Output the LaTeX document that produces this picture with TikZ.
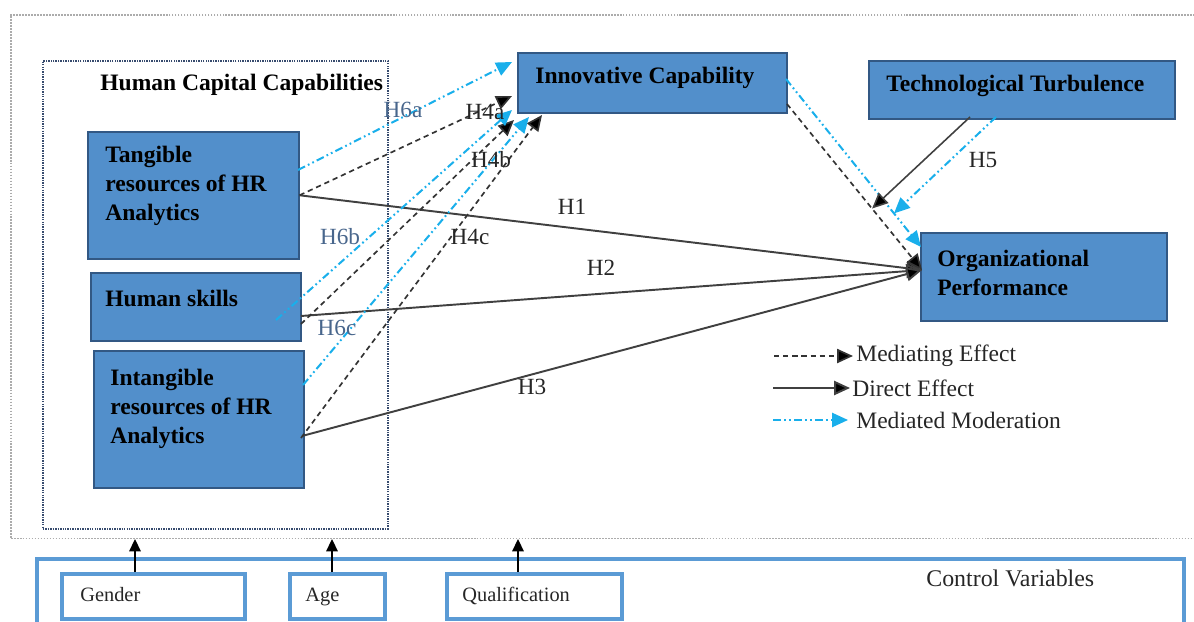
\documentclass[tikz,border=0pt]{standalone}
\usepackage{fontspec}
\setmainfont{Liberation Serif}
\usetikzlibrary{arrows.meta}
\definecolor{boxfill}{RGB}{82,143,203}
\definecolor{boxline}{RGB}{50,88,132}
\definecolor{cyanarr}{RGB}{25,175,235}
\definecolor{ctrlblue}{RGB}{91,155,213}
\definecolor{hsixcol}{RGB}{72,102,140}
\definecolor{dotcol}{RGB}{55,75,110}
\tikzset{
  bluebox/.style={draw=boxline, line width=0.9pt, fill=boxfill, anchor=north west, inner sep=0pt},
  boxtext/.style={anchor=west, align=left, inner sep=0pt, font=\fontsize{13.4}{16.3}\selectfont\bfseries},
  hlabel/.style={inner sep=0pt, font=\fontsize{13.2}{15}\selectfont, text=black!85},
  hsix/.style={hlabel, text=hsixcol},
  legtext/.style={anchor=west, inner sep=0pt, font=\fontsize{13.4}{15}\selectfont, text=black!85},
  ctrlbox/.style={draw=ctrlblue, line width=2.2pt, anchor=north west, inner sep=0pt},
  ctrltext/.style={anchor=base west, inner sep=0pt, font=\fontsize{11.6}{13}\selectfont, text=black!85},
  direct/.style={draw=black!75, line width=1.1pt, -{Triangle[length=9pt,width=8pt,fill=black]}},
  mediating/.style={draw=black!80, line width=0.95pt, dash pattern=on 3pt off 2.2pt, -{Triangle[length=9pt,width=8pt,fill=black]}},
  mediated/.style={draw=cyanarr, line width=1.15pt, dash pattern=on 4.5pt off 1.8pt on 1pt off 1.8pt on 1pt off 1.8pt, -{Triangle[length=9pt,width=8pt,fill=cyanarr]}},
  ctrlarrow/.style={draw=black, line width=1pt, -{Triangle[length=7pt,width=6.5pt]}}
}
\begin{document}
\begin{tikzpicture}[x=0.02cm,y=-0.02cm]
\useasboundingbox (0,0) rectangle (1194,622);
\clip (0,0) rectangle (1194,622);

% frames
\node[draw=gray!65, dash pattern=on 1pt off 0.7pt, line width=0.9pt, anchor=north west,
      minimum width=24.2cm, minimum height=10.48cm, inner sep=0pt] (frame) at (10,14) {};
\node[draw=dotcol, dash pattern=on 0.8pt off 0.6pt, line width=1pt, anchor=north west,
      minimum width=6.9cm, minimum height=9.36cm, inner sep=0pt] (hcc) at (42,60) {};
\node[boxtext] (hcctitle) at (100,85) {Human Capital Capabilities};

% blue boxes
\node[bluebox, minimum width=4.22cm, minimum height=2.54cm] (tang) at (87,131) {};
\node[bluebox, minimum width=4.2cm, minimum height=1.36cm] (hs) at (90,272) {};
\node[bluebox, minimum width=4.2cm, minimum height=2.74cm] (int) at (93,350) {};
\node[bluebox, minimum width=5.38cm, minimum height=1.2cm] (ic) at (517,52) {};
\node[bluebox, minimum width=6.12cm, minimum height=1.16cm] (tt) at (868,60) {};
\node[bluebox, minimum width=4.92cm, minimum height=1.76cm] (op) at (920,232) {};

\node[boxtext] (tangt) at (105,186) {Tangible\\resources of HR\\Analytics};
\node[boxtext] (hst) at (105,298) {Human skills};
\node[boxtext] (intt) at (110,409) {Intangible\\resources of HR\\Analytics};
\node[boxtext] (ict) at (535,78) {Innovative Capability};
\node[boxtext] (ttt) at (886,86) {Technological Turbulence};
\node[boxtext, font=\fontsize{13.4}{17}\selectfont\bfseries] (opt) at (937,273) {Organizational\\Performance};

% attachment points
\coordinate (t6a) at (298,170);
\coordinate (hs6b) at (276,320);
\coordinate (hs4b) at (301,324);
\coordinate (hs2) at (301,316);
\coordinate (in6c) at (303,385);
\coordinate (in4c) at (301,438);
\coordinate (in3) at (302,436);
\coordinate (ic6a) at (512,62);
\coordinate (ic4a) at (512,96);
\coordinate (ic6b) at (512,110);
\coordinate (ic4b) at (514,120);
\coordinate (ic6c) at (529,117);
\coordinate (ic4c) at (542,115);
\coordinate (opin) at (922,270);
\coordinate (opmm) at (921,247);
\coordinate (icmd) at (787,104);
\coordinate (icmm) at (786,79);
\coordinate (ttd) at (970,117);
\coordinate (ttm) at (996,117);
\path (icmd) -- (opin) coordinate[pos=0.63] (mod1);
\path (icmm) -- (opmm) coordinate[pos=0.8] (mod2);

% direct effects
\draw[direct] (tang.east) -- (opin);
\draw[direct] (hs2) -- (opin);
\draw[direct] (in3) -- (opin);

% mediating effects
\draw[mediating] (tang.east) -- (ic4a);
\draw[mediating] (hs4b) -- (ic4b);
\draw[mediating] (in4c) -- (ic4c);
\draw[mediating] (icmd) -- (opin);

% mediated moderation
\draw[mediated] (t6a) -- (ic6a);
\draw[mediated] (hs6b) -- (ic6b);
\draw[mediated] (in6c) -- (ic6c);
\draw[mediated] (icmm) -- (opmm);

% moderation from technological turbulence
\draw[direct, line width=0.9pt] (ttd) -- (mod1);
\draw[mediated] (ttm) -- (mod2);

% hypothesis labels
\node[hlabel] (h1) at (572,207) {H1};
\node[hlabel] (h2) at (601,268) {H2};
\node[hlabel] (h3) at (532,387) {H3};
\node[hlabel] (h4a) at (485,112) {H4a};
\node[hlabel] (h4b) at (491,160) {H4b};
\node[hlabel] (h4c) at (470,237) {H4c};
\node[hlabel] (h5) at (983,160) {H5};
\node[hsix] (h6a) at (403,110) {H6a};
\node[hsix] (h6b) at (340,237) {H6b};
\node[hsix] (h6c) at (337,328) {H6c};

% legend
\coordinate (l1a) at (774,356); \coordinate (l1b) at (853,356);
\coordinate (l2a) at (773,388); \coordinate (l2b) at (850,388);
\coordinate (l3a) at (773,420); \coordinate (l3b) at (848,420);
\draw[mediating] (l1a) -- (l1b);
\draw[direct] (l2a) -- (l2b);
\draw[mediated] (l3a) -- (l3b);
\node[legtext] (lt1) at (856,356) {Mediating Effect};
\node[legtext] (lt2) at (852,388) {Direct Effect};
\node[legtext] (lt3) at (856,420) {Mediated Moderation};

% control variables
\node[ctrlbox, minimum width=22.94cm, minimum height=2cm] (ctrl) at (35,557) {};
\node[ctrlbox, minimum width=3.66cm, minimum height=0.9cm] (gen) at (60,572) {};
\node[ctrlbox, minimum width=1.9cm, minimum height=0.9cm] (age) at (288,572) {};
\node[ctrlbox, minimum width=3.5cm, minimum height=0.9cm] (qual) at (445,572) {};
\node[ctrltext] (gent) at (80,601) {Gender};
\node[ctrltext] (aget) at (305,601) {Age};
\node[ctrltext] (qualt) at (462,601) {Qualification};
\node[ctrltext, font=\fontsize{13.6}{15}\selectfont] (ctrlt) at (926,586) {Control Variables};

\coordinate (cg) at (135,539);
\coordinate (ca) at (332,539);
\coordinate (cq) at (518,539);
\draw[ctrlarrow] (gen.north -| cg) -- (cg);
\draw[ctrlarrow] (age.north -| ca) -- (ca);
\draw[ctrlarrow] (qual.north -| cq) -- (cq);
\end{tikzpicture}
\end{document}
